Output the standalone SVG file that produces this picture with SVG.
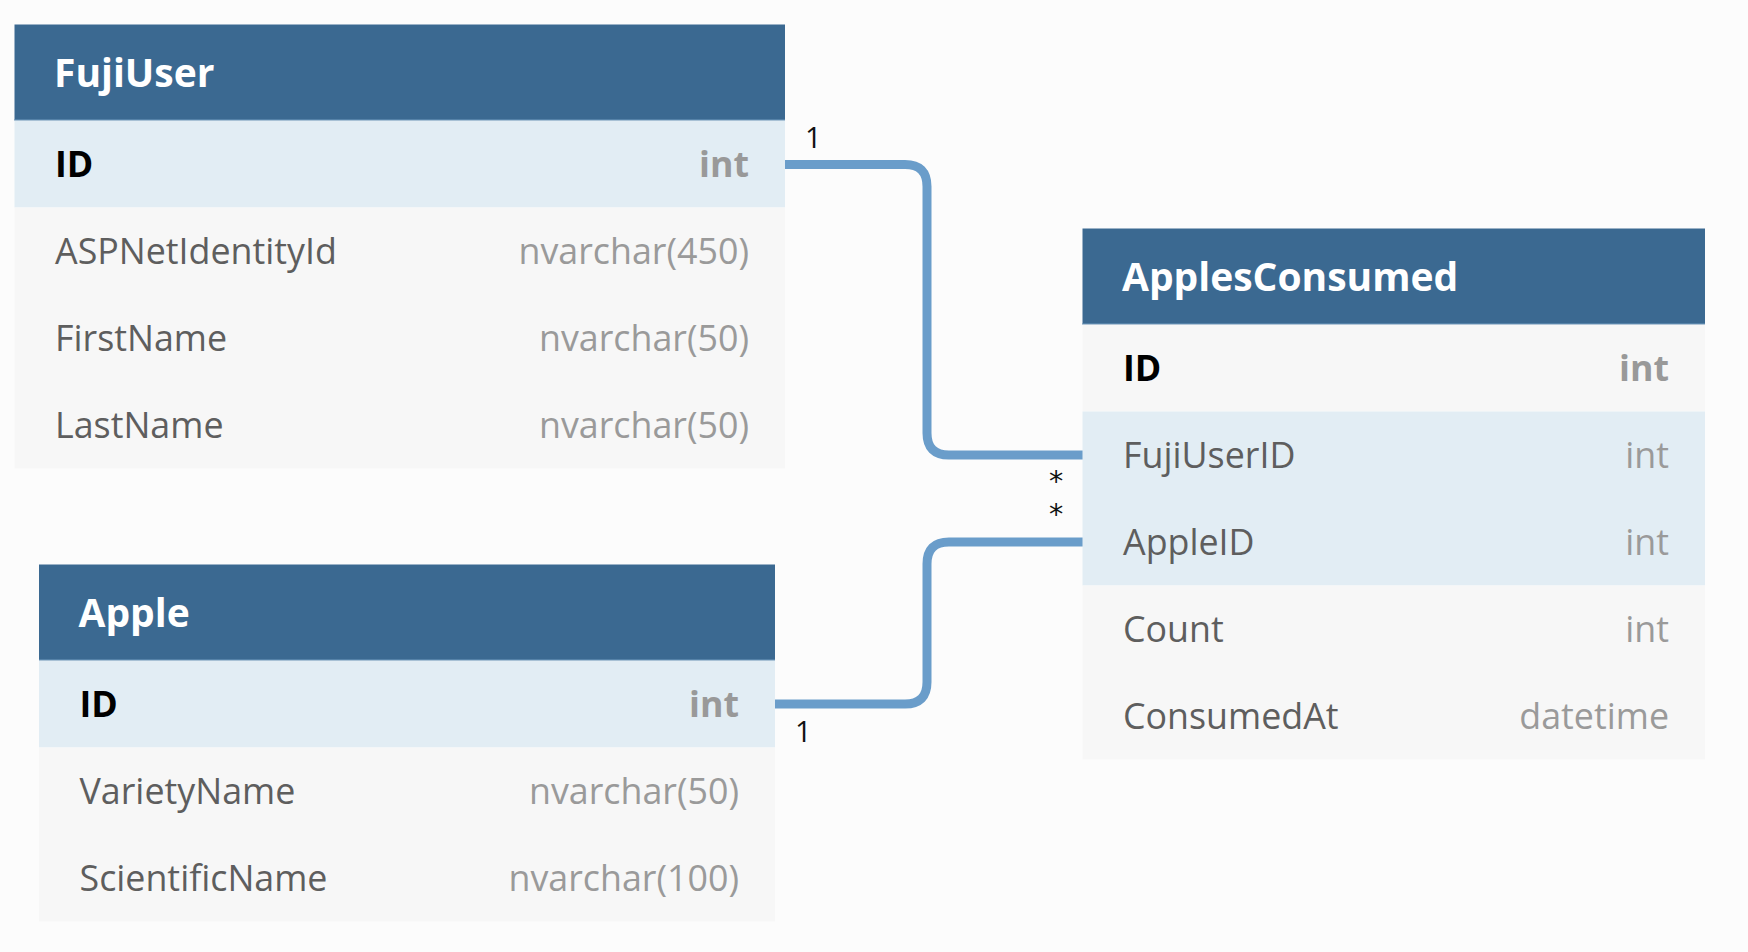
<svg xmlns="http://www.w3.org/2000/svg" width="1748" height="952" viewBox="0 0 1748 952">
<style>
.bg{fill:#fcfcfc}
.hdr{fill:#3b6991}
.hdrline{stroke:#5f8bb1;stroke-width:1.5}
.row{fill:#f7f7f7}
.hl{fill:#e2edf4}
.title{font-family:"Open Sans","DejaVu Sans",sans-serif;font-weight:700;font-size:39px;fill:#ffffff}
.fn{font-family:"Open Sans","DejaVu Sans",sans-serif;font-size:35.8px;fill:#5e5e5e}
.ft{font-family:"Open Sans","DejaVu Sans",sans-serif;font-size:35.8px;fill:#9a9a9a;text-anchor:end}
.pk{font-weight:700;fill:#000000}
.pkt{font-weight:700;fill:#999999}
.conn{fill:none;stroke:#6a9dca;stroke-width:9}
.lbl{font-family:"Open Sans","DejaVu Sans",sans-serif;font-size:29px;fill:#111111}
.star{font-family:"DejaVu Sans",sans-serif;font-size:28.5px;fill:#111111;text-anchor:middle}
</style>
<rect class="bg" x="0" y="0" width="1748" height="952"/>

<g id="connectors">
<path class="conn" d="M785,164.5 H905 Q927,164.5 927,186.5 V433 Q927,455 949,455 H1083"/>
<path class="conn" d="M775,704 H905 Q927,704 927,682 V564 Q927,542 949,542 H1083"/>
<text class="lbl" x="805" y="148">1</text>
<text class="lbl" x="795" y="742">1</text>
<text class="star" x="1056" y="490.5">*</text>
<text class="star" x="1056" y="524">*</text>
</g>

<g id="FujiUser">
<rect class="hdr" x="14.5" y="24.5" width="770.5" height="96"/>
<line class="hdrline" x1="14.5" y1="120" x2="785" y2="120"/>
<rect class="hl" x="14.5" y="120.5" width="770.5" height="87"/>
<rect class="row" x="14.5" y="207.5" width="770.5" height="261"/>
<text class="title" x="54" y="86.5">FujiUser</text>
<text class="fn pk" x="55" y="177">ID</text><text class="ft pkt" x="749" y="177">int</text>
<text class="fn" x="55" y="264">ASPNetIdentityId</text><text class="ft" x="749" y="264">nvarchar(450)</text>
<text class="fn" x="55" y="351">FirstName</text><text class="ft" x="749" y="351">nvarchar(50)</text>
<text class="fn" x="55" y="438">LastName</text><text class="ft" x="749" y="438">nvarchar(50)</text>
</g>

<g id="Apple">
<rect class="hdr" x="39" y="564.5" width="736" height="96"/>
<line class="hdrline" x1="39" y1="660" x2="775" y2="660"/>
<rect class="hl" x="39" y="660.5" width="736" height="87"/>
<rect class="row" x="39" y="747.5" width="736" height="174"/>
<text class="title" x="78.5" y="626.5">Apple</text>
<text class="fn pk" x="79.5" y="717">ID</text><text class="ft pkt" x="739" y="717">int</text>
<text class="fn" x="79.5" y="804">VarietyName</text><text class="ft" x="739" y="804">nvarchar(50)</text>
<text class="fn" x="79.5" y="891">ScientificName</text><text class="ft" x="739" y="891">nvarchar(100)</text>
</g>

<g id="ApplesConsumed">
<rect class="hdr" x="1082.5" y="228.5" width="622.5" height="96"/>
<line class="hdrline" x1="1082.5" y1="324" x2="1705" y2="324"/>
<rect class="row" x="1082.5" y="324.5" width="622.5" height="87"/>
<rect class="hl" x="1082.5" y="411.5" width="622.5" height="174"/>
<rect class="row" x="1082.5" y="585.5" width="622.5" height="174"/>
<text class="title" x="1122" y="290.5">ApplesConsumed</text>
<text class="fn pk" x="1123" y="381">ID</text><text class="ft pkt" x="1669" y="381">int</text>
<text class="fn" x="1123" y="468">FujiUserID</text><text class="ft" x="1669" y="468">int</text>
<text class="fn" x="1123" y="555">AppleID</text><text class="ft" x="1669" y="555">int</text>
<text class="fn" x="1123" y="642">Count</text><text class="ft" x="1669" y="642">int</text>
<text class="fn" x="1123" y="729">ConsumedAt</text><text class="ft" x="1669" y="729">datetime</text>
</g>
</svg>
